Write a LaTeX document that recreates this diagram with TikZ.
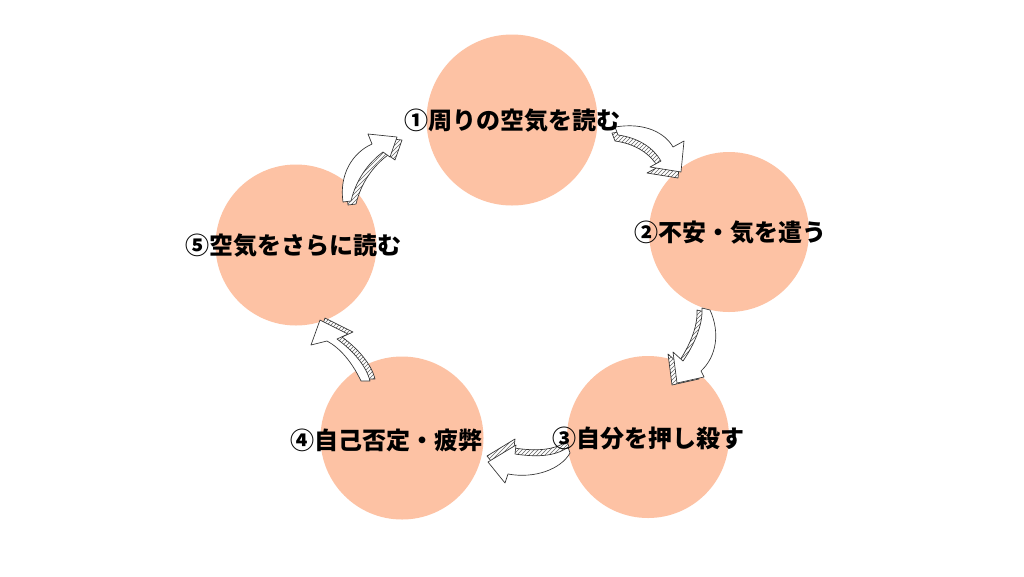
\documentclass[tikz,border=0pt]{standalone}
\usepackage{fontspec}
\newfontfamily\jp{Noto Sans CJK JP}
\usetikzlibrary{patterns}
\definecolor{peach}{RGB}{253,194,164}
\def\arrAB{(615,127) .. controls (645,122) and (665,133) .. (673,147) -- (684,141) -- (681,172) -- (650,167) -- (661,161) .. controls (654,149) and (640,138) .. (618,135) -- cycle}
\def\arrBC{(702,308) -- (710,310) .. controls (720,332) and (717,356) .. (701,371) -- (704,377) -- (677,383) -- (673,352) -- (683,361) .. controls (694,345) and (703,325) .. (702,308) -- cycle}
\def\arrCD{(568,447) .. controls (555,457) and (535,457) .. (515,454) -- (516,445) -- (488,462) -- (505,483) -- (508,474) .. controls (535,479) and (561,469) .. (570,453) -- cycle}
\def\arrDE{(361,381) .. controls (352,362) and (340,348) .. (327,341) -- (311,345) -- (320,320) -- (348,334) -- (337,339) .. controls (352,350) and (366,365) .. (370,381) -- cycle}
\def\arrEA{(343,202) .. controls (339,175) and (352,153) .. (372,144) -- (368,134) -- (397,137) -- (390,157) -- (383,152) .. controls (368,163) and (356,180) .. (351,201) -- cycle}
\begin{document}
\begin{tikzpicture}[x=0.75pt,y=-0.75pt,
  bub/.style={circle, fill=peach, draw=none, inner sep=0pt, minimum size=#1*0.75pt},
  lab/.style={font=\jp\bfseries\fontsize{18}{20}\selectfont, text=black, inner sep=0pt},
  face/.style={fill=white, draw=black!80, line width=0.5pt, line join=round},
  side/.style={preaction={fill=white}, pattern=north east lines, pattern color=black!60, draw=black!80, line width=0.5pt, line join=round}]
\useasboundingbox (0,0) rectangle (1024,576);
\fill[white] (0,0) rectangle (1024,576);
% circles
\node[bub=171] (c1) at (512,120) {};
\node[bub=160] (c2) at (729,232) {};
\node[bub=162] (c3) at (648,437) {};
\node[bub=163] (c4) at (402,438) {};
\node[bub=161] (c5) at (296,245) {};
% arrows (3D hatched sides, white faces)
\path[side, shift={(-3,6)}] \arrAB;
\path[face] \arrAB;
\path[side, shift={(-5,2)}] \arrBC;
\path[face] \arrBC;
\path[side, shift={(-1,-6)}] \arrCD;
\path[face] \arrCD;
\path[side, shift={(5,-2)}] \arrDE;
\path[face] \arrDE;
\path[side, shift={(5,3)}] \arrEA;
\path[face] \arrEA;
% labels
\node[lab] (t1) at (512,121) {①周りの空気を読む};
\node[lab] (t2) at (730,233) {②不安・気を遣う};
\node[lab] (t3) at (648,438) {③自分を押し殺す};
\node[lab] (t4) at (386,440) {④自己否定・疲弊};
\node[lab] (t5) at (293,246) {⑤空気をさらに読む};
\end{tikzpicture}
\end{document}
